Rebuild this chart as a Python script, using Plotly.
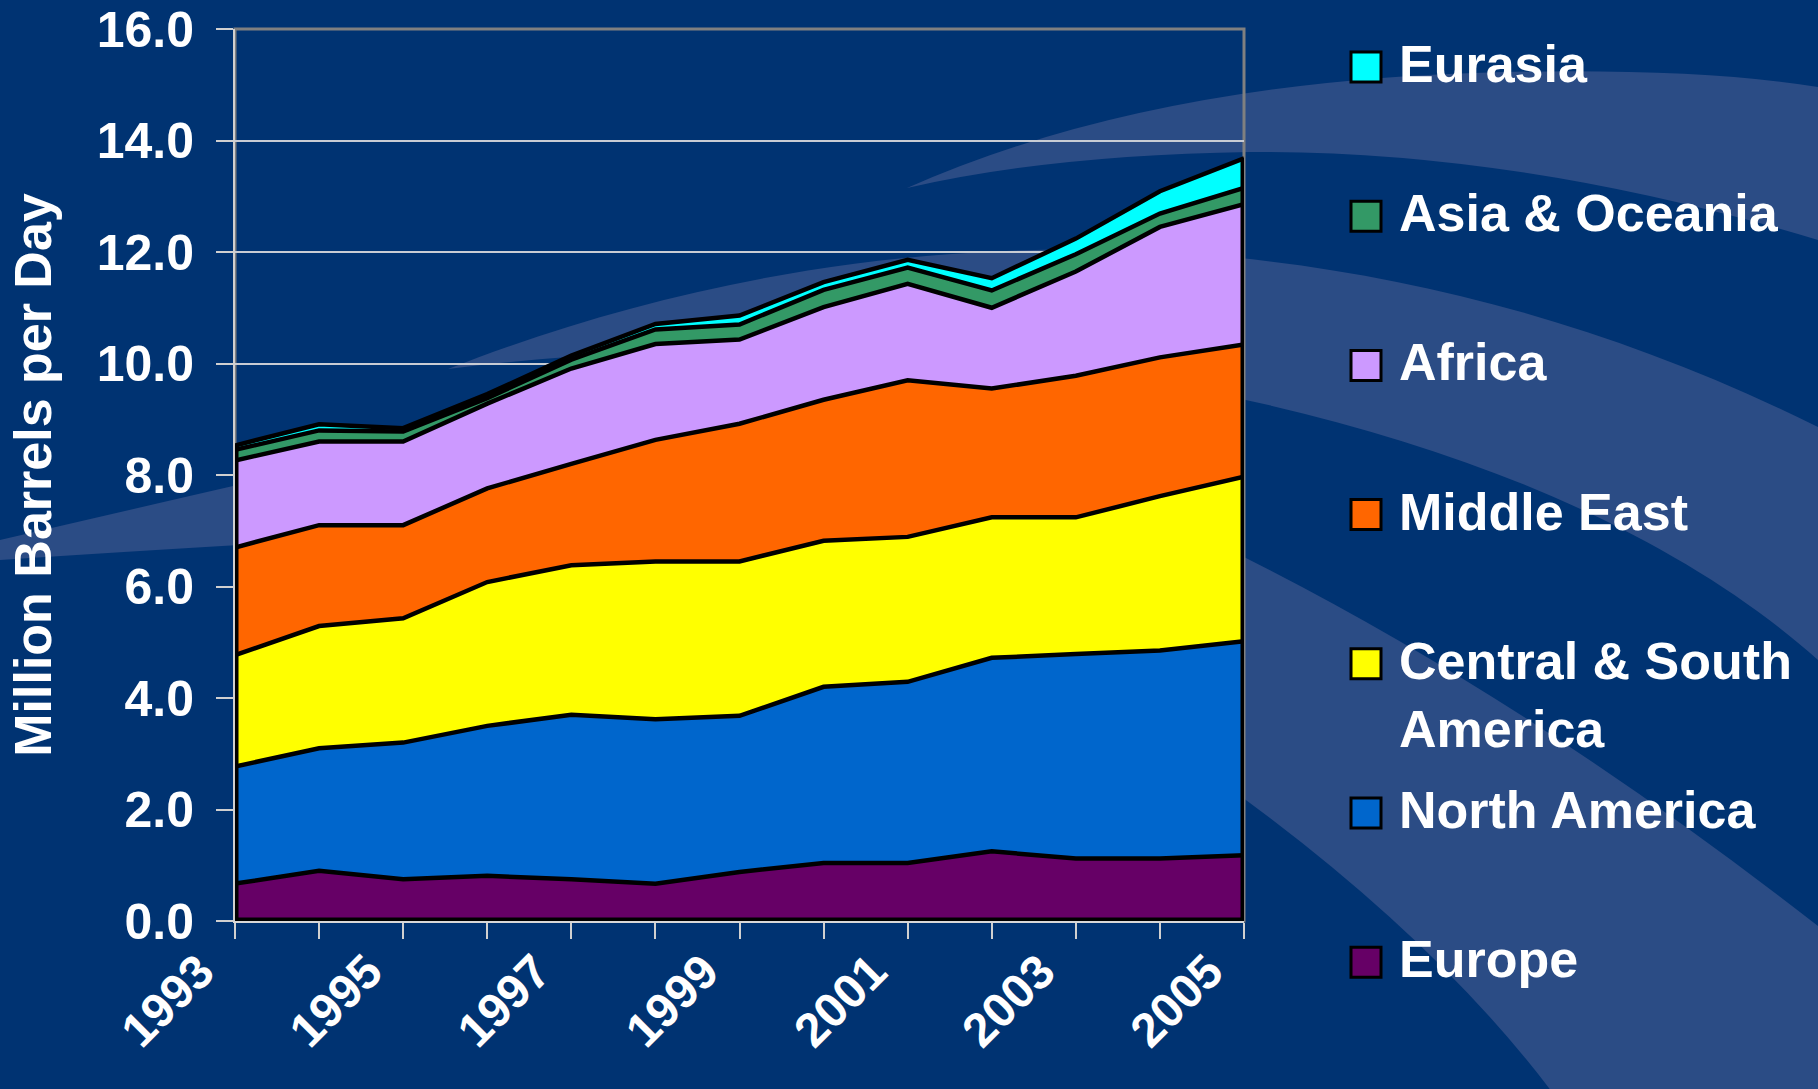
import plotly.graph_objects as go

# --- data (million barrels per day) ---
years = list(range(1993, 2006))
label_years = years[::2]

europe = [0.67, 0.90, 0.75, 0.81, 0.75, 0.67, 0.88, 1.04, 1.04, 1.25, 1.12, 1.12, 1.18]
north_america = [2.10, 2.20, 2.45, 2.69, 2.95, 2.95, 2.80, 3.16, 3.25, 3.47, 3.67, 3.73, 3.84]
central_south_america = [2.00, 2.19, 2.23, 2.58, 2.68, 2.83, 2.77, 2.62, 2.60, 2.52, 2.45, 2.77, 2.95]
middle_east = [1.93, 1.81, 1.67, 1.68, 1.82, 2.18, 2.47, 2.53, 2.81, 2.31, 2.54, 2.49, 2.37]
africa = [1.56, 1.50, 1.50, 1.52, 1.71, 1.72, 1.51, 1.66, 1.73, 1.45, 1.87, 2.34, 2.52]
asia_oceania = [0.19, 0.20, 0.18, 0.10, 0.16, 0.26, 0.27, 0.31, 0.29, 0.31, 0.31, 0.24, 0.29]
eurasia = [0.08, 0.11, 0.06, 0.07, 0.07, 0.10, 0.16, 0.14, 0.14, 0.22, 0.28, 0.40, 0.53]

series_names = ["Europe", "North America", "Central & South America", "Middle East",
                "Africa", "Asia & Oceania", "Eurasia"]
series_values = [europe, north_america, central_south_america, middle_east,
                 africa, asia_oceania, eurasia]
series_colors = ["#660066", "#0066CC", "#FFFF00", "#FF6600", "#CC99FF", "#339966", "#00FFFF"]
legend_labels = ["Eurasia", "Asia & Oceania", "Africa", "Middle East",
                 "Central & South<br>America", "North America", "Europe"]

FONT = "Liberation Sans, Arial, sans-serif"
NAVY = "#003372"
SWOOSH = "#2b4c85"

# page geometry (px)
W, H = 1818, 1089
L, T = 235, 29
PW, PH = 1009, 892
R, B = W - L - PW, H - T - PH


def to_paper(x, y):
    return (x - L) / PW, 1 - (y - T) / PH


def page_path(spec):
    # convert an SVG path written in page pixels to paper coordinates
    out, nums = [], []
    for tok in spec.split():
        if tok.isalpha():
            out.append(tok)
        else:
            nums.append(float(tok))
            if len(nums) == 2:
                px, py = to_paper(*nums)
                out.append(f"{px:.4f},{py:.4f}")
                nums = []
    return " ".join(out)


# background swooshes
swooshes = [
    "M 907 188 Q 1150 80 1504 72 Q 1700 68 1818 87 L 1830 87 L 1830 240 L 1818 240 Q 1520 150 1250 152 Q 1050 155 907 188 Z",
    "M 448 369 C 800 230 1300 170 1818 427 L 1830 427 L 1830 660 L 1818 660 C 1550 420 1000 300 448 369 Z",
    "M -10 540 L 0 540 Q 300 470 700 380 L 700 520 Q 300 540 0 560 L -10 560 Z",
    "M 1000 450 Q 1400 600 1818 926 L 1830 926 L 1830 1100 L 1558 1100 Q 1380 860 1000 640 Z",
]

fig = go.Figure()

for name, vals, color in zip(series_names, series_values, series_colors):
    fig.add_trace(go.Scatter(
        x=years, y=vals, name=name, mode="lines", stackgroup="one",
        fillcolor=color, line=dict(color="black", width=4.5),
        showlegend=False,
    ))

# black outline on the sides of the stack
totals = [sum(v[i] for v in series_values) for i in range(len(years))]
fig.add_trace(go.Scatter(
    x=[years[0], years[0], years[-1], years[-1]],
    y=[totals[0], 0, 0, totals[-1]],
    mode="lines", line=dict(color="black", width=7),
    showlegend=False, hoverinfo="skip",
))

shapes = []
for p in swooshes:
    shapes.append(dict(type="path", xref="paper", yref="paper", path=page_path(p),
                       fillcolor=SWOOSH, line=dict(width=0), layer="below"))
shapes.append(dict(type="rect", xref="paper", yref="paper", x0=0, x1=1, y0=0, y1=1,
                   line=dict(color="#808080", width=3), layer="below"))

# manual legend with square swatches
annotations = []
first_y, step = 67, 149.2
for i, (label, color) in enumerate(zip(legend_labels, series_colors[::-1])):
    cy = first_y + step * i
    x0, y0 = to_paper(1351, cy - 15)
    x1, y1 = to_paper(1381, cy + 15)
    shapes.append(dict(type="rect", xref="paper", yref="paper", x0=x0, x1=x1, y0=y1, y1=y0,
                       fillcolor=color, line=dict(color="black", width=3)))
    tx, ty = to_paper(1397, cy - 34)
    annotations.append(dict(
        text=f"<b>{label}</b>", xref="paper", yref="paper", x=tx, y=ty,
        xanchor="left", yanchor="top", align="left", showarrow=False,
        font=dict(family=FONT, size=52, color="white"),
    ))

tick_style = dict(ticks="outside", tickwidth=1.5, tickcolor="#d0d0d0")

fig.update_layout(
    template="none",
    width=W, height=H,
    margin=dict(l=L, r=R, t=T, b=B, pad=0),
    paper_bgcolor=NAVY,
    plot_bgcolor="rgba(0,0,0,0)",
    font=dict(family=FONT, color="white"),
    showlegend=False,
    shapes=shapes,
    annotations=annotations,
    xaxis=dict(
        range=[years[0], years[-1]],
        tickmode="array", tickvals=label_years, ticktext=[str(y) for y in label_years],
        ticklen=16, **tick_style,
        minor=dict(tickmode="linear", tick0=years[0], dtick=1, ticklen=16, **tick_style, showgrid=False),
        tickangle=-45,
        tickfont=dict(family=FONT, size=48, color="white", weight="bold"),
        ticklabelstandoff=-15,
        ticklabelshift=-35,
        showline=True, linecolor="#d8d8d8", linewidth=2,
        showgrid=False, zeroline=False, automargin=False,
    ),
    yaxis=dict(
        range=[0, 16], tick0=0, dtick=2, tickformat=".1f",
        ticklen=17, **tick_style,
        tickfont=dict(family=FONT, size=50, color="white", weight="bold"),
        ticklabelstandoff=12,
        showline=True, linecolor="#d0d0d0", linewidth=2,
        showgrid=True, gridcolor="#c8ccd4", gridwidth=1.5, zeroline=False,
        title=dict(text="Million Barrels per Day", standoff=28,
                   font=dict(family=FONT, size=52, color="white", weight="bold")),
        automargin=False,
    ),
)

# drop the browser's default page margin so the figure fills the window
fig.write_html(
    "out.html",
    config={"displayModeBar": False},
    post_script=f"document.body.style.margin='0';document.body.style.background='{NAVY}';",
)
